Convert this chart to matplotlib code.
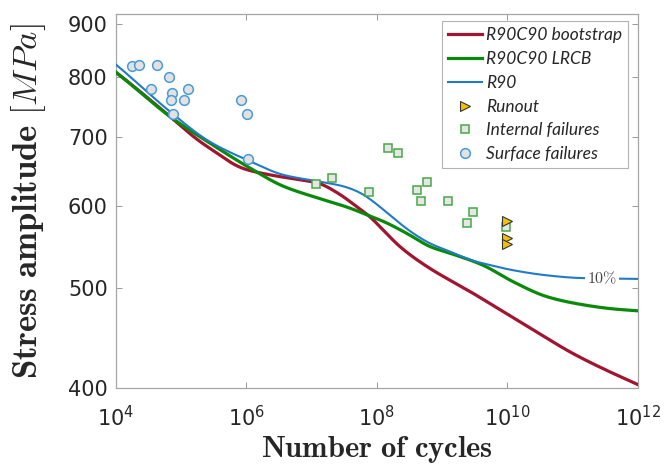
import numpy as np
import matplotlib
matplotlib.use('Agg')
import matplotlib.pyplot as plt
from matplotlib.lines import Line2D

# design curves, log10(N) vs stress amplitude [MPa]
boot_logN = [4.0, 4.83, 5.24, 5.44, 5.95, 6.36, 6.82, 7.08, 7.39, 7.69, 7.89, 8.09, 8.35, 8.77, 9.47, 9.89, 10.35, 11.00, 11.52, 12.0]
boot_S = [808, 732, 696, 682, 652, 643, 636, 632, 618, 599, 586, 569, 548, 524, 494, 476, 457, 432, 416, 403]

lrcb_logN = [4.0, 4.83, 5.44, 6.05, 6.56, 7.08, 7.59, 7.85, 8.09, 8.51, 8.81, 9.12, 9.62, 10.08, 10.61, 11.11, 11.62, 12.0]
lrcb_S = [808, 732, 690, 653, 627, 611, 597, 588, 580, 562, 548, 540, 526, 507, 490, 482, 477, 475]

r90_logN = [4.0, 4.83, 5.44, 6.05, 6.56, 7.08, 7.48, 7.74, 8.0, 8.25, 8.51, 8.81, 9.12, 9.43, 9.73, 10.08, 10.61, 11.11, 12.0]
r90_S = [822, 740, 692, 663, 643, 634, 627, 618, 602, 584, 567, 552, 542, 532, 526, 520, 514, 511, 510]

# test results
surf_logN = [4.24, 4.357, 4.624, 4.812, 4.536, 4.854, 5.099, 4.843, 5.042, 4.878, 5.916, 6.003, 6.018]
surf_S = [819, 821, 821, 800, 779, 772, 779, 759, 759, 737, 759, 737, 666]

int_logN = [8.164, 8.326, 7.065, 7.315, 7.882, 8.608, 8.766, 8.674, 9.093, 9.467, 9.375, 9.972]
int_S = [683, 675, 630, 638, 619, 621, 633, 606, 607, 592, 577, 572]

run_logN = [10.0, 10.0, 10.0]
run_S = [580, 559, 551]

c_red = '#A2142F'
c_green = '#0A8A0A'
c_blue = '#1F7BC8'


def pchip(x, y, xx):
    # monotone piecewise cubic (Fritsch-Carlson)
    x = np.asarray(x, float)
    y = np.asarray(y, float)
    h = np.diff(x)
    d = np.diff(y) / h
    m = np.zeros_like(y)
    for i in range(1, len(x) - 1):
        if d[i - 1] * d[i] > 0:
            w1 = 2 * h[i] + h[i - 1]
            w2 = h[i] + 2 * h[i - 1]
            m[i] = (w1 + w2) / (w1 / d[i - 1] + w2 / d[i])
    m[0] = d[0]
    m[-1] = d[-1]
    idx = np.clip(np.searchsorted(x, xx) - 1, 0, len(x) - 2)
    t = (xx - x[idx]) / h[idx]
    h00 = 2 * t**3 - 3 * t**2 + 1
    h10 = t**3 - 2 * t**2 + t
    h01 = -2 * t**3 + 3 * t**2
    h11 = t**3 - t**2
    return h00 * y[idx] + h10 * h[idx] * m[idx] + h01 * y[idx + 1] + h11 * h[idx] * m[idx + 1]


def curve(lx, ys, n=800, sig=6):
    xx = np.linspace(lx[0], lx[-1], n)
    yy = pchip(lx, ys, xx)
    # light gaussian smoothing, ends padded by linear extension
    k = np.exp(-0.5 * (np.arange(-3 * sig, 3 * sig + 1) / sig) ** 2)
    k /= k.sum()
    p = 3 * sig
    left = yy[0] - (yy[1] - yy[0]) * np.arange(p, 0, -1)
    right = yy[-1] + (yy[-1] - yy[-2]) * np.arange(1, p + 1)
    yy = np.convolve(np.r_[left, yy, right], k, mode='valid')
    return 10 ** xx, yy


fig = plt.figure(figsize=(6.65, 4.75), dpi=100)
ax = fig.add_axes([0.1744, 0.1832, 0.785, 0.7873])

x, y = curve(boot_logN, boot_S)
ax.plot(x, y, color=c_red, lw=2.3, zorder=3)
x, y = curve(lrcb_logN, lrcb_S)
ax.plot(x, y, color=c_green, lw=2.3, zorder=3)
x, y = curve(r90_logN, r90_S)
ax.plot(x, y, color=c_blue, lw=1.5, zorder=4)

ax.plot(10 ** np.array(surf_logN), surf_S, 'o', ms=7, mfc='#E2E2E2', mec='#4A9BD8', mew=1.1, ls='none', zorder=5)
ax.plot(10 ** np.array(int_logN), int_S, 's', ms=5.5, mfc='#E6E6E6', mec='#45A845', mew=1.1, ls='none', zorder=5)
ax.plot(10 ** np.array(run_logN), run_S, '>', ms=7, mfc='#F2C200', mec='#333333', mew=0.8, ls='none', zorder=6)

# inline label on the R90 curve
ax.text(10 ** 11.45, 511, r'$\mathbf{10\%}$', math_fontfamily='cm', fontsize=11.5,
        color='#444444', ha='center', va='center', zorder=7,
        bbox=dict(facecolor='white', edgecolor='none', pad=1.5))

ax.set_xscale('log')
ax.set_yscale('log')
ax.set_xlim(1e4, 1e12)
ax.set_ylim(400, 920)
ax.set_xticks([1e4, 1e6, 1e8, 1e10, 1e12])
ax.set_yticks([400, 500, 600, 700, 800, 900])
ax.set_yticklabels(['400', '500', '600', '700', '800', '900'])
ax.minorticks_off()
ax.tick_params(direction='in', top=True, right=True, length=4, width=0.7,
               color='#999999', labelsize=15, labelcolor='#262626', pad=6)
ax.tick_params(axis='x', pad=12)
for s in ax.spines.values():
    s.set_color('#A6A6A6')
    s.set_linewidth(0.9)

ax.set_xlabel(r'$\mathbf{Number\ of\ cycles}$', math_fontfamily='cm', fontsize=22, color='#262626', labelpad=3)
ax.set_ylabel(r'$\mathbf{Stress\ amplitude}\ [MPa]$', math_fontfamily='cm', fontsize=25, color='#262626', labelpad=14)

handles = [
    Line2D([], [], color=c_red, lw=2.3),
    Line2D([], [], color=c_green, lw=2.3),
    Line2D([], [], color=c_blue, lw=1.5),
    Line2D([], [], marker='>', ls='none', ms=7, mfc='#F2C200', mec='#333333', mew=0.8),
    Line2D([], [], marker='s', ls='none', ms=5.5, mfc='#E6E6E6', mec='#45A845', mew=1.1),
    Line2D([], [], marker='o', ls='none', ms=7, mfc='#E2E2E2', mec='#4A9BD8', mew=1.1),
]
labels = ['R90C90 bootstrap', 'R90C90 LRCB', 'R90', 'Runout', 'Internal failures', 'Surface failures']
leg = ax.legend(handles, labels, loc='upper right', bbox_to_anchor=(0.981, 0.981),
                prop={'family': 'Lato', 'style': 'italic', 'size': 12.5},
                frameon=True, fancybox=False, handlelength=1.95, handletextpad=0.25,
                labelspacing=0.45, borderpad=0.35, borderaxespad=0)
leg.get_frame().set_edgecolor('#A0A0A0')
leg.get_frame().set_linewidth(0.8)
for t in leg.get_texts():
    t.set_color('#262626')

fig.savefig('out.png', dpi=100)
